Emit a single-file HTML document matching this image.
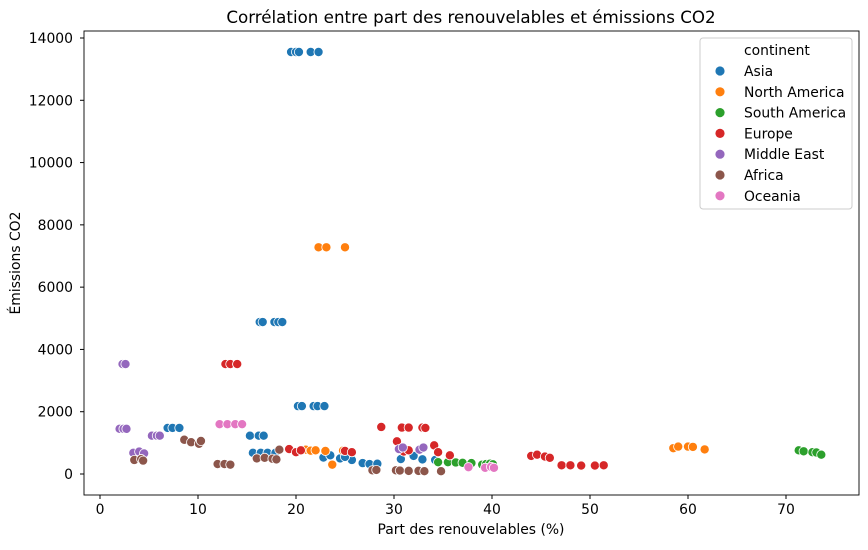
<!DOCTYPE html>
<html><head><meta charset="utf-8"><style>
body{margin:0;background:#fff;font-family:"DejaVu Sans","Liberation Sans",sans-serif;}
text{font-family:"DejaVu Sans","Liberation Sans",sans-serif;}
</style></head><body>
<svg id="chart" width="868" height="546" xmlns="http://www.w3.org/2000/svg">
<text x="471" y="23" font-size="16.7" text-anchor="middle">Corrélation entre part des renouvelables et émissions CO2</text>
<text x="471" y="534" font-size="13.9" text-anchor="middle">Part des renouvelables (%)</text>
<text transform="translate(20,263) rotate(-90)" font-size="13.9" text-anchor="middle">Émissions CO2</text>
<g id="axes"></g>
<g id="points"></g>
<rect x="84" y="31" width="775" height="464" fill="none" stroke="#000" stroke-width="0.9"/>
<g id="legend"></g>
</svg>
<script>
const xTicks=[0,10,20,30,40,50,60,70];
const yTicks=[0,2000,4000,6000,8000,10000,12000,14000];
const continents=["Asia","North America","South America","Europe","Middle East","Africa","Oceania"];
const colors=["#1f77b4","#ff7f0e","#2ca02c","#d62728","#9467bd","#8c564b","#e377c2"];
const asiaX=[19.5,20,20.3,21.5,22.3,16.3,16.6,17.8,18.2,18.6,20.2,20.6,21.8,22.2,22.9,6.9,7.4,8.1,15.3,16.2,16.7,15.6,16.4,17.1,17.9,22.8,23.5,24.5,25.2,25.7,25,26.8,27.5,28.3,30.7,32,32.9,34.2];
const asiaY=[13550,13550,13550,13550,13550,4880,4880,4880,4880,4880,2180,2180,2180,2180,2180,1480,1480,1480,1230,1230,1230,680,680,680,680,530,600,500,550,450,550,350,320,330,480,580,470,450];
const naX=[22.3,23.1,25,58.5,59,60,60.5,61.7,21,21.5,22,23,23.7,24.8];
const naY=[7280,7280,7280,830,880,880,870,790,780,750,760,740,300,750];
const saX=[34.5,35.5,36.3,37,37.9,39,39.4,39.8,40.1,71.3,71.8,72.7,73.1,73.6];
const saY=[380,380,370,360,350,300,320,330,310,760,730,700,690,620];
const euX=[12.8,13.3,14,14,19.3,20,20.5,25,25.7,28.7,30.8,31.5,32.9,33.2,30.3,34.1,34.5,35.7,44,44.6,45.4,45.9,47.1,48,49.1,50.5,51.4,31,31.5];
const euY=[3530,3530,3530,3530,800,700,760,740,700,1510,1490,1490,1490,1480,1050,920,700,600,580,620,560,520,280,280,270,270,280,720,760];
const meX=[2.3,2.6,2,2.4,2.7,5.3,5.8,6.1,3.4,4,4.5,30.5,30.9,32.6,33];
const meY=[3530,3530,1450,1450,1450,1230,1230,1230,680,720,660,800,850,780,850];
const afX=[3.5,4.2,4.4,8.6,9.3,10.1,10.3,12,12.7,13.3,16,16.8,17.6,18,18.3,27.8,28.2,30.2,30.6,31.5,32.5,33.1,34.8];
const afY=[450,480,430,1100,1020,970,1060,320,320,300,500,520,490,470,780,120,130,120,110,100,100,90,90];
const ocX=[12.2,13,13.8,14.5,37.6,39.3,39.9,40.2];
const ocY=[1600,1600,1600,1600,220,200,230,200];
const seriesX=[asiaX,naX,saX,euX,meX,afX,ocX];
const seriesY=[asiaY,naY,saY,euY,meY,afY,ocY];
const NS="http://www.w3.org/2000/svg";
function sx(v){return 100+v*9.8;}
function sy(v){return 474-v*0.031143;}
const axes=document.getElementById('axes');
xTicks.forEach(t=>{
 const l=document.createElementNS(NS,'line');
 
 
 l.setAttribute('x1',sx(t));l.setAttribute('x2',sx(t));l.setAttribute('y1',495);l.setAttribute('y2',499);l.setAttribute('stroke','#000');axes.appendChild(l);
 const tx=document.createElementNS(NS,'text');
 
 
 tx.setAttribute('x',sx(t));tx.setAttribute('y',514);tx.setAttribute('font-size','13.9');tx.setAttribute('text-anchor','middle');tx.textContent=t;axes.appendChild(tx);
});
yTicks.forEach(t=>{
 const l=document.createElementNS(NS,'line');
 
 
 l.setAttribute('x1',80);l.setAttribute('x2',84);l.setAttribute('y1',sy(t));l.setAttribute('y2',sy(t));l.setAttribute('stroke','#000');axes.appendChild(l);
 const tx=document.createElementNS(NS,'text');
 
 
 tx.setAttribute('x',73);tx.setAttribute('y',sy(t)+5);tx.setAttribute('font-size','13.9');tx.setAttribute('text-anchor','end');tx.textContent=t;axes.appendChild(tx);
});
const pts=document.getElementById('points');
seriesX.forEach((xs,i)=>{
 xs.forEach((x,j)=>{
  const c=document.createElementNS(NS,'circle');
  
  
  c.setAttribute('cx',sx(x));c.setAttribute('cy',sy(seriesY[i][j]));c.setAttribute('r',4.6);
  c.setAttribute('fill',colors[i]);c.setAttribute('stroke','#fff');c.setAttribute('stroke-width','0.8');
  pts.appendChild(c);
 });
});
const lg=document.getElementById('legend');
const box=document.createElementNS(NS,'rect');


box.setAttribute('x',700);box.setAttribute('y',38);box.setAttribute('width',152);box.setAttribute('height',171);box.setAttribute('rx',3);box.setAttribute('fill','#fff');box.setAttribute('fill-opacity','0.8');box.setAttribute('stroke','#ccc');lg.appendChild(box);
const ht=document.createElementNS(NS,'text');


ht.setAttribute('x',744);ht.setAttribute('y',55);ht.setAttribute('font-size','13.9');ht.textContent='continent';lg.appendChild(ht);
continents.forEach((n,i)=>{
 const y=71+i*20.8;
 const c=document.createElementNS(NS,'circle');
 
 
 c.setAttribute('cx',720);c.setAttribute('cy',y);c.setAttribute('r',4.6);c.setAttribute('fill',colors[i]);lg.appendChild(c);
 const t=document.createElementNS(NS,'text');
 
 
 t.setAttribute('x',744);t.setAttribute('y',y+5);t.setAttribute('font-size','13.9');t.textContent=n;lg.appendChild(t);
});
</script>
</body></html>
